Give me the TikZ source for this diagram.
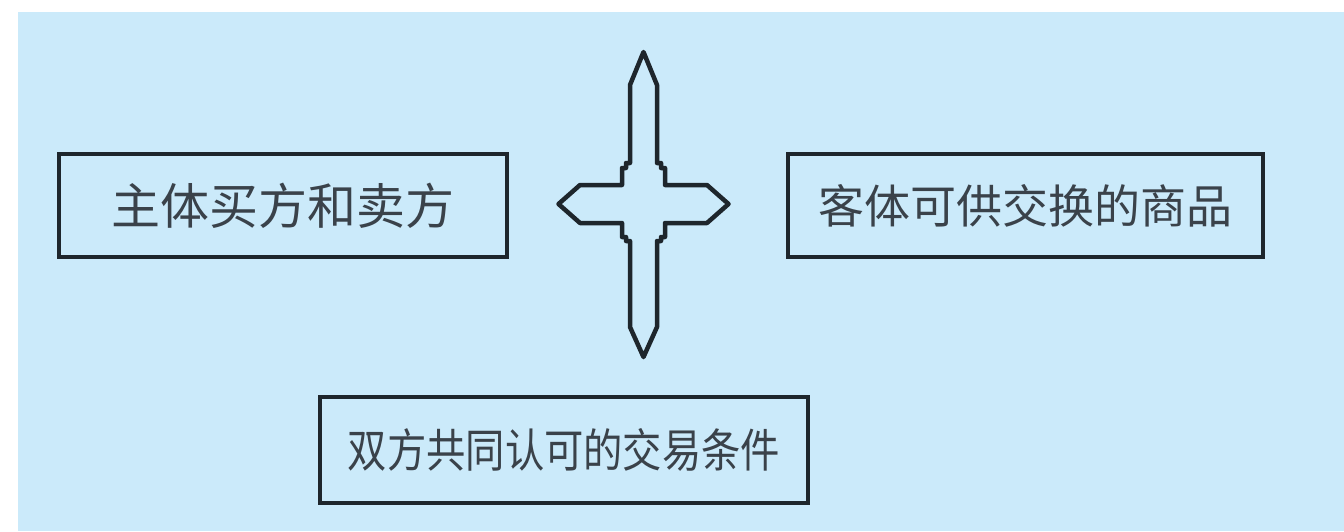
\documentclass[tikz,border=0pt]{standalone}
\usepackage{fontspec}
\newfontfamily\cjk{Noto Sans CJK SC}
\newfontfamily\cjknarrow[FakeStretch=0.855]{Noto Sans CJK SC}
\definecolor{bg}{RGB}{203,234,250}
\definecolor{ink}{RGB}{30,38,44}
\definecolor{txt}{RGB}{58,66,74}
\tikzset{
  box/.style={draw=ink, line width=4pt, fill=bg, rectangle, inner sep=0pt,
              text=txt, font=\cjk\fontsize{46}{50}\selectfont},
  crossshape/.style={draw=ink, line width=4.5pt, fill=bg, line join=round}
}
\begin{document}
\begin{tikzpicture}[x=1pt,y=-1pt]
\useasboundingbox (0,0) rectangle (1344,531);
\fill[white] (0,0) rectangle (1344,531);
\fill[bg] (18,12) rectangle (1344,531);

\node[box, minimum width=448pt, minimum height=103pt, font=\cjk\fontsize{49}{53}\selectfont] (buyer) at (283,205.5) {主体买方和卖方};
\node[box, minimum width=475pt, minimum height=103pt] (goods) at (1025.5,205.5) {客体可供交换的商品};
\node[box, minimum width=488pt, minimum height=106pt, font=\cjknarrow\fontsize{46}{50}\selectfont] (terms) at (564,450) {双方共同认可的交易条件};

\begin{scope}[shift={(643.5,204)}]
\draw[crossshape]
  (0,-152) -- (13.5,-119) -- (13.5,-41) -- (17.5,-41) -- (17.5,-36) -- (21.5,-36) -- (21.5,-19)
  -- (63.5,-19) -- (85,0) -- (63.5,19) -- (21.5,19) -- (21.5,33) -- (17.5,33) -- (17.5,37) -- (13.5,37)
  -- (13.5,123) -- (0,153) -- (-13.5,123) -- (-13.5,37) -- (-17.5,37) -- (-17.5,33) -- (-21.5,33)
  -- (-21.5,19) -- (-63.5,19) -- (-85,0) -- (-63.5,-19) -- (-21.5,-19) -- (-21.5,-36) -- (-17.5,-36)
  -- (-17.5,-41) -- (-13.5,-41) -- (-13.5,-119) -- cycle;
\end{scope}
\end{tikzpicture}
\end{document}
